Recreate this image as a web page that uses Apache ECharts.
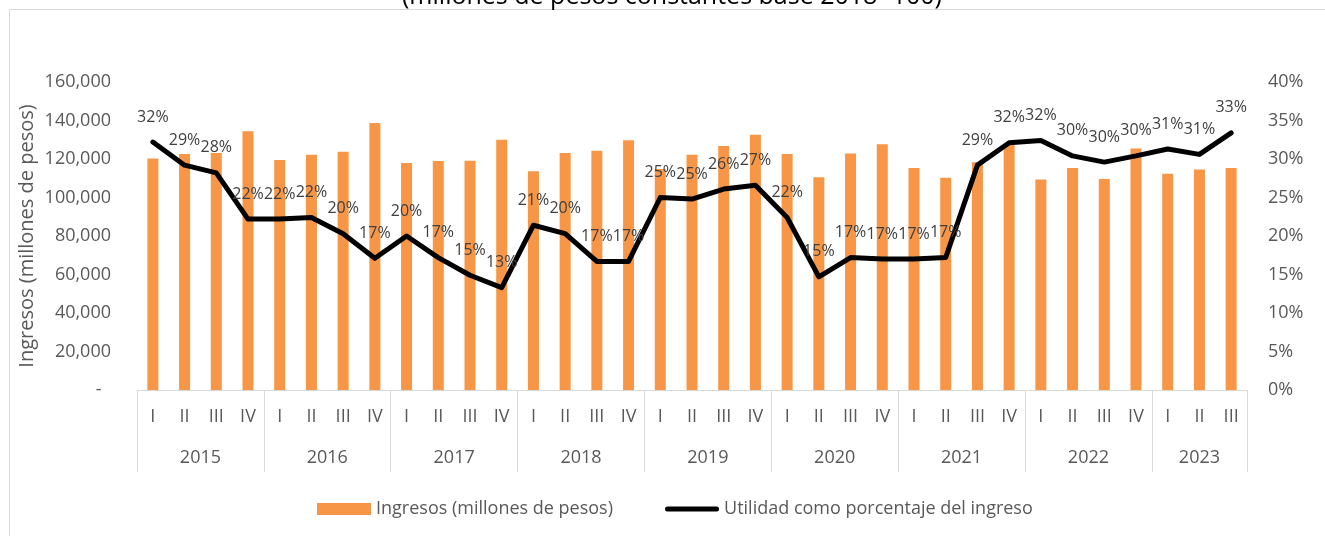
<!DOCTYPE html>
<html>
<head>
<meta charset="utf-8">
<script src="https://cdn.jsdelivr.net/npm/echarts@6/dist/echarts.min.js"></script>
<style>
  html, body { margin: 0; padding: 0; background: #fff; }
  #chart { width: 1325px; height: 536px; }
</style>
</head>
<body>
<div id="chart"></div>
<script>
// datos
var quarters = ["I","II","III","IV","I","II","III","IV","I","II","III","IV","I","II","III","IV",
  "I","II","III","IV","I","II","III","IV","I","II","III","IV","I","II","III","IV","I","II","III"];
var years = ["2015","2015","2015","2015","2016","2016","2016","2016","2017","2017","2017","2017",
  "2018","2018","2018","2018","2019","2019","2019","2019","2020","2020","2020","2020",
  "2021","2021","2021","2021","2022","2022","2022","2022","2023","2023","2023"];
// Ingresos (millones de pesos)
var ingresos = [120200, 122600, 123100, 134400, 119500, 122200, 123800, 138700,
  117900, 119000, 119100, 130000, 113600, 123100, 124300, 129700,
  114800, 122200, 126800, 132600, 122600, 110500, 122900, 127600,
  115300, 110300, 118300, 127800, 109300, 115300, 109600, 125400,
  112400, 114500, 115300];
// Utilidad como porcentaje del ingreso
var utilidad = [32.2, 29.2, 28.2, 22.2, 22.2, 22.4, 20.3, 17.1,
  20.0, 17.2, 14.9, 13.3, 21.4, 20.3, 16.7, 16.7,
  25.0, 24.8, 26.1, 26.6, 22.4, 14.7, 17.2, 17.0,
  17.0, 17.2, 29.2, 32.1, 32.4, 30.4, 29.6, 30.4,
  31.3, 30.6, 33.4];

var FONT = "Open Sans";
var chart = echarts.init(document.getElementById("chart"));

var option = {
  backgroundColor: "#fff",
  textStyle: { fontFamily: FONT },
  title: {
    text: "(millones de pesos constantes base 2018=100)",
    left: 397,
    top: -21,
    textStyle: { fontFamily: FONT, fontSize: 25, fontWeight: "normal", color: "#000" }
  },
  graphic: [{
    type: "rect",
    z: -1,
    shape: { x: 9.5, y: 9.5, width: 1400, height: 600 },
    style: { fill: "none", stroke: "#d9d9d9", lineWidth: 1 }
  }],
  legend: {
    left: 312,
    top: 495,
    itemGap: 52,
    itemWidth: 54,
    itemHeight: 12,
    symbolKeepAspect: true,
    textStyle: { fontFamily: FONT, fontSize: 18, color: "#595959" },
    data: [
      { name: "Ingresos (millones de pesos)", icon: "rect" },
      {
        name: "Utilidad como porcentaje del ingreso",
        icon: "path://M2.5,0 L51.5,0 A2.5,2.5 0 0 1 51.5,5 L2.5,5 A2.5,2.5 0 0 1 2.5,0 Z",
        itemStyle: { color: "#000" }
      }
    ]
  },
  grid: { left: 137, right: 78, top: 82, bottom: 146, containLabel: false, outerBoundsMode: "none" },
  xAxis: [
    {
      type: "category",
      data: quarters,
      position: "bottom",
      axisLine: { show: true, lineStyle: { color: "#d9d9d9", width: 1 } },
      axisTick: {
        show: true,
        length: 82,
        interval: function (idx) { return idx % 4 === 0; },
        lineStyle: { color: "#d9d9d9", width: 1 }
      },
      axisLabel: {
        interval: 0,
        margin: 18,
        fontFamily: FONT,
        fontSize: 18,
        color: "#595959"
      },
      splitLine: { show: false }
    },
    {
      type: "category",
      data: years,
      position: "bottom",
      axisLine: { show: false },
      axisTick: { show: false },
      axisLabel: {
        margin: 59,
        fontFamily: FONT,
        fontSize: 18,
        color: "#595959",
        interval: function (idx) { return (idx % 4 === 1 && idx < 32) || idx === 33; },
        formatter: function (v, idx) { return idx < 32 ? "{s|" + v + "}" : v; },
        rich: { s: { padding: [0, 0, 0, 31.7], fontFamily: FONT, fontSize: 18, color: "#595959" } }
      },
      splitLine: { show: false }
    }
  ],
  yAxis: [
    {
      type: "value",
      min: 0,
      max: 160000,
      interval: 20000,
      name: "Ingresos (millones de pesos)",
      nameLocation: "middle",
      nameRotate: 90,
      nameGap: 100,
      nameMoveOverlap: false,
      nameTextStyle: { fontFamily: FONT, fontSize: 20, color: "#595959" },
      axisLine: { show: false },
      axisTick: { show: false },
      splitLine: { show: false },
      axisLabel: {
        margin: 26,
        fontFamily: FONT,
        fontSize: 18,
        color: "#595959",
        formatter: function (v) {
          return v === 0 ? "-  " : v.toLocaleString("en-US");
        }
      }
    },
    {
      type: "value",
      min: 0,
      max: 40,
      interval: 5,
      axisLine: { show: false },
      axisTick: { show: false },
      splitLine: { show: false },
      axisLabel: {
        margin: 21,
        fontFamily: FONT,
        fontSize: 18,
        color: "#595959",
        formatter: function (v) { return v + "%"; }
      }
    }
  ],
  series: [
    {
      name: "Ingresos (millones de pesos)",
      type: "bar",
      xAxisIndex: 0,
      yAxisIndex: 0,
      barWidth: 11,
      itemStyle: { color: "#F79646" },
      data: ingresos
    },
    {
      name: "Utilidad como porcentaje del ingreso",
      type: "line",
      xAxisIndex: 0,
      yAxisIndex: 1,
      symbol: "circle",
      symbolSize: 0.1,
      showSymbol: true,
      itemStyle: { color: "#000" },
      lineStyle: { color: "#000", width: 5, cap: "round", join: "round" },
      label: {
        show: true,
        position: "top",
        distance: 17,
        fontFamily: FONT,
        fontSize: 16,
        color: "#404040",
        formatter: function (p) { return Math.round(p.value) + "%"; }
      },
      data: utilidad,
      z: 3
    }
  ]
};

chart.setOption(option);
window.onresize = chart.resize;
</script>
</body>
</html>
